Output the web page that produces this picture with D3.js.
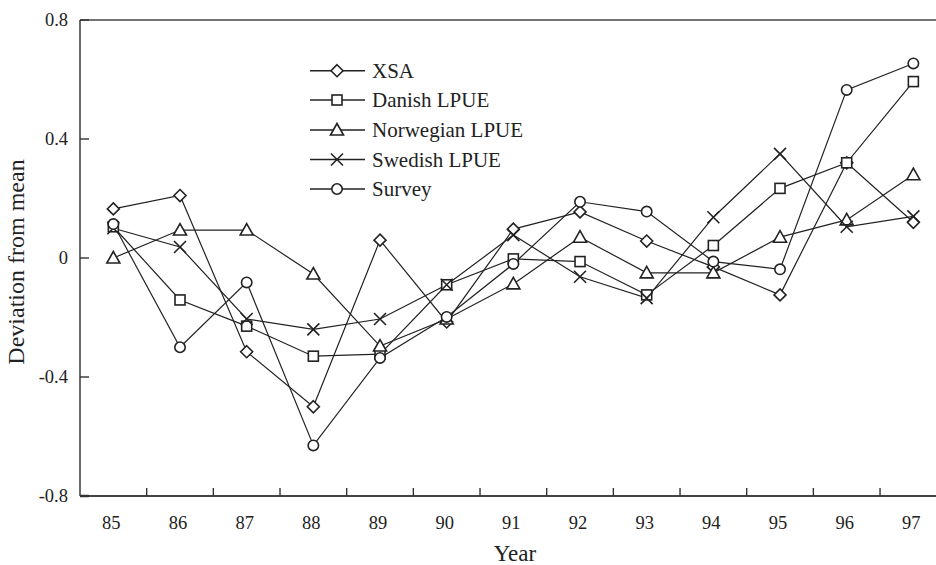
<!DOCTYPE html>
<html>
<head>
<meta charset="utf-8">
<script src="https://cdn.jsdelivr.net/npm/d3@7"></script>
<style>
  html, body { margin: 0; padding: 0; background: #fff; }
  svg { display: block; }
  svg text { font-family: "Liberation Serif", "DejaVu Serif", serif; }
</style>
</head>
<body>
<svg id="chart" width="936" height="565"></svg>
<script>
const years = ["85","86","87","88","89","90","91","92","93","94","95","96","97"];
const yTicks = [-0.8, -0.4, 0, 0.4, 0.8];
const seriesNames = ["XSA", "Danish LPUE", "Norwegian LPUE", "Swedish LPUE", "Survey"];
const seriesSymbols = ["diamond", "square", "triangle", "cross", "circle"];
const xsa       = [0.165, 0.21, -0.315, -0.50, 0.06, -0.215, 0.097, 0.155, 0.057, -0.03, -0.124, 0.32, 0.12];
const danish    = [0.105, -0.141, -0.229, -0.33, -0.323, -0.09, -0.003, -0.012, -0.124, 0.042, 0.234, 0.32, 0.593];
const norwegian = [0.0, 0.094, 0.094, -0.054, -0.296, -0.205, -0.087, 0.07, -0.05, -0.05, 0.07, 0.128, 0.28];
const swedish   = [0.10, 0.037, -0.205, -0.24, -0.205, -0.09, 0.077, -0.063, -0.135, 0.137, 0.35, 0.105, 0.14];
const survey    = [0.114, -0.30, -0.082, -0.63, -0.336, -0.198, -0.02, 0.189, 0.156, -0.012, -0.038, 0.565, 0.654];
const seriesValues = [xsa, danish, norwegian, swedish, survey];

const svg = d3.select("#chart");
const mLeft = 80, mRight = 946.7, mTop = 20, mBottom = 496;
const ink = "#222";
const serif = "Liberation Serif, DejaVu Serif, serif";

const x = d3.scaleBand().domain(years).range([mLeft, mRight]).paddingInner(0).paddingOuter(0);
const y = d3.scaleLinear().domain([-0.8, 0.8]).range([mBottom, mTop]);
const cx = d => x(d) + x.bandwidth() / 2;

// frame: top line
svg.append("line").attr("x1", mLeft).attr("x2", 936).attr("y1", mTop).attr("y2", mTop)
  .attr("stroke", "#444").attr("stroke-width", 1.6);

// x axis
const xAxisG = svg.append("g").attr("transform", `translate(0,${mBottom})`);
xAxisG.append("line").attr("x1", mLeft).attr("x2", 936).attr("y1", 0).attr("y2", 0)
  .attr("stroke", "#444").attr("stroke-width", 1.8);
const boundaries = years.slice(1).map(d => x(d));
xAxisG.selectAll("line.tk").data(boundaries).enter().append("line")
  .attr("class", "tk").attr("x1", d => d).attr("x2", d => d).attr("y1", 0).attr("y2", -8)
  .attr("stroke", "#333").attr("stroke-width", 1.4);
xAxisG.selectAll("text").data(years).enter().append("text")
  .attr("x", d => cx(d) - 2).attr("y", 33).attr("font-family", serif)
  .attr("text-anchor", "middle").attr("font-size", 18.5).attr("fill", ink).text(d => d);

// y axis
const yAxisG = svg.append("g");
yAxisG.append("line").attr("x1", mLeft).attr("x2", mLeft).attr("y1", mTop).attr("y2", mBottom)
  .attr("stroke", "#444").attr("stroke-width", 1.6);
yAxisG.selectAll("line.tk").data(yTicks).enter().append("line")
  .attr("class", "tk").attr("x1", mLeft).attr("x2", mLeft + 9).attr("y1", d => y(d)).attr("y2", d => y(d))
  .attr("stroke", "#333").attr("stroke-width", d => d === -0.8 ? 2.5 : 1.4);
yAxisG.selectAll("text").data(yTicks).enter().append("text")
  .attr("x", 68).attr("y", d => y(d) + 6).attr("font-family", serif)
  .attr("text-anchor", "end").attr("font-size", 18.5).attr("fill", ink)
  .text(d => d === 0 ? "0" : d3.format(".1f")(d).replace("\u2212", "-"));

// axis titles
svg.append("text").attr("x", 515).attr("y", 561).attr("text-anchor", "middle").attr("font-family", serif)
  .attr("font-size", 23).attr("fill", ink).text("Year");
svg.append("text").attr("transform", "translate(24,262) rotate(-90)").attr("text-anchor", "middle")
  .attr("font-family", serif).attr("font-size", 24).attr("fill", ink).text("Deviation from mean");

function drawMarker(g, sym, px, py) {
  let el;
  if (sym === "circle") {
    el = g.append("circle").attr("cx", px).attr("cy", py).attr("r", 5.2);
  } else if (sym === "square") {
    el = g.append("rect").attr("x", px - 5).attr("y", py - 5).attr("width", 10).attr("height", 10);
  } else if (sym === "diamond") {
    const r = 6;
    el = g.append("path").attr("d", `M${px},${py - r}L${px + r},${py}L${px},${py + r}L${px - r},${py}Z`);
  } else if (sym === "triangle") {
    el = g.append("path").attr("d", `M${px},${py - 6.5}L${px + 6.5},${py + 5}L${px - 6.5},${py + 5}Z`);
  } else if (sym === "cross") {
    const r = 6;
    g.append("path").attr("d", `M${px - r},${py - r}L${px + r},${py + r}M${px + r},${py - r}L${px - r},${py + r}`)
      .attr("fill", "none").attr("stroke", ink).attr("stroke-width", 1.6);
    return;
  }
  el.attr("fill", "#fff").attr("stroke", ink).attr("stroke-width", 1.6);
}

const line = d3.line().x((d, i) => cx(years[i])).y(d => y(d));

seriesValues.forEach(vals => {
  svg.append("path").datum(vals).attr("d", line)
    .attr("fill", "none").attr("stroke", ink).attr("stroke-width", 1.2);
});
seriesValues.forEach((vals, si) => {
  const g = svg.append("g");
  vals.forEach((v, i) => drawMarker(g, seriesSymbols[si], cx(years[i]), y(v)));
});

// legend
const legendRowY = [70.7, 100, 130, 159.5, 189];
seriesNames.forEach((name, i) => {
  const g = svg.append("g");
  const ly = legendRowY[i];
  g.append("line").attr("x1", 310).attr("x2", 365).attr("y1", ly).attr("y2", ly)
    .attr("stroke", ink).attr("stroke-width", 1.6);
  drawMarker(g, seriesSymbols[i], 337, ly);
  g.append("text").attr("x", 372).attr("y", ly + 7).attr("font-family", serif)
    .attr("font-size", 21).attr("fill", ink).text(name);
});
</script>
</body>
</html>
